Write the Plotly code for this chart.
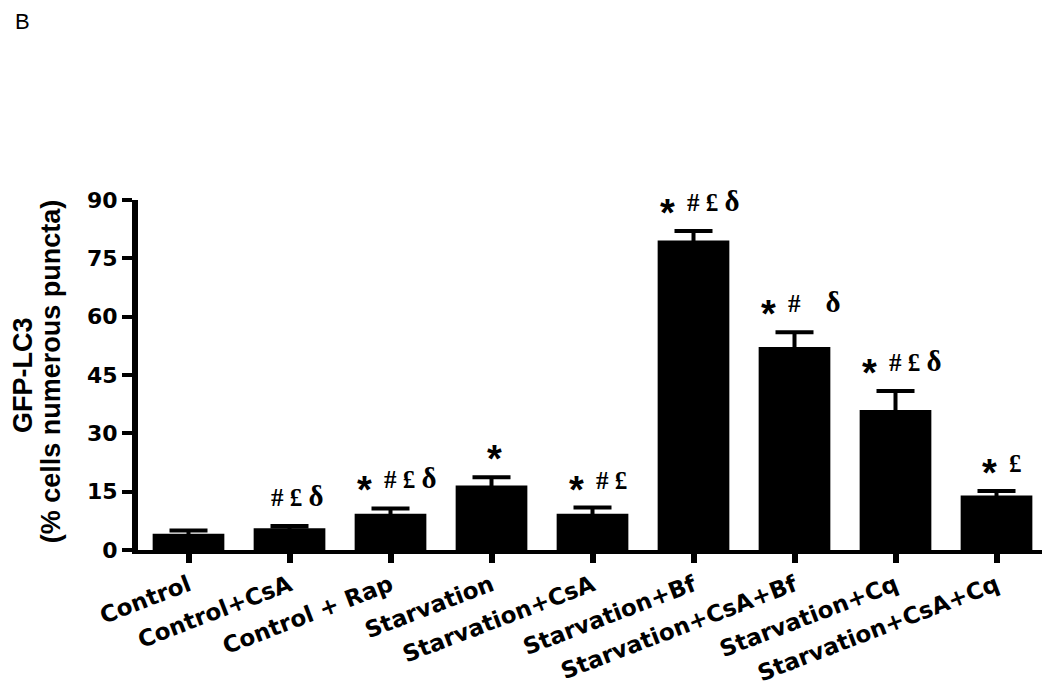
import plotly.graph_objects as go

groups = ["Control", "Control+CsA", "Control + Rap", "Starvation", "Starvation+CsA",
          "Starvation+Bf", "Starvation+CsA+Bf", "Starvation+Cq", "Starvation+CsA+Cq"]
means = [4.2, 5.6, 9.3, 16.6, 9.3, 79.6, 52.2, 36.0, 14.0]
sems = [0.8, 0.6, 1.4, 2.1, 1.6, 2.4, 3.8, 4.9, 1.2]
# significance marks above each bar
star = [False, False, True, True, True, True, True, True, True]
marks = ["", "# £ δ", "# £ δ", "", "# £", "# £ δ", "#\u00a0\u00a0\u00a0 δ", "# £ δ", "£"]
yticks = [0, 15, 30, 45, 60, 75, 90]

# the page body has an 8px margin, so the figure is drawn a bit smaller
fig = go.Figure()
fig.add_trace(go.Bar(
    x=groups, y=means, width=0.71,
    marker=dict(color="black", line=dict(width=0)),
    error_y=dict(type="data", array=sems, color="black", thickness=4, width=19),
))

serif = "Liberation Serif, Times New Roman, serif"
sans = "Liberation Sans, Arial, sans-serif"
for g, m, e, s, mk in zip(groups, means, sems, star, marks):
    top = m + e
    # rough text width of the marks in px
    wm = sum(6 if c in " \u00a0" else (14 if c == "δ" else 12) for c in mk)
    total = (16 if s else 0) + (8 if s and mk else 0) + wm
    left = -total / 2 + 4
    if s:
        fig.add_annotation(x=g, y=top, text="<b>*</b>", showarrow=False,
                           xanchor="left", yanchor="middle",
                           xshift=left - 3, yshift=18,
                           font=dict(family=sans, size=38, color="black"))
        left += 24
    if mk:
        txt = mk.replace("δ", "<span style='font-size:29px'>δ</span>")
        fig.add_annotation(x=g, y=top, text="<b>" + txt + "</b>", showarrow=False,
                           xanchor="left", yanchor="bottom",
                           xshift=left, yshift=12,
                           font=dict(family=serif, size=25, color="black"))

# y axis title, two lines
fig.add_annotation(xref="paper", yref="paper", x=-0.1265, y=0.5, text="<b>GFP-LC3</b>",
                   textangle=-90, showarrow=False, xanchor="center", yanchor="middle",
                   font=dict(family=sans, size=27, color="black"))
fig.add_annotation(xref="paper", yref="paper", x=-0.096, y=0.51,
                   text="<b>(% cells numerous puncta)</b>",
                   textangle=-90, showarrow=False, xanchor="center", yanchor="middle",
                   font=dict(family=sans, size=27, color="black"))
fig.add_annotation(xref="paper", yref="paper", x=-0.138, y=1.55, text="B",
                   showarrow=False, xanchor="left", yanchor="top",
                   font=dict(family=sans, size=22, color="black"))

fig.update_layout(
    width=1042, height=681,
    margin=dict(l=130, r=3, t=192, b=139),
    plot_bgcolor="white", paper_bgcolor="white",
    showlegend=False,
    xaxis=dict(
        range=[-0.5, 8.5], showline=True, linecolor="black", linewidth=4,
        ticks="outside", ticklen=9, tickwidth=6, tickcolor="black",
        tickangle=-21, showgrid=False, zeroline=False, automargin=False,
        tickfont=dict(family="DejaVu Sans", size=23, color="black", weight="bold"),
    ),
    yaxis=dict(
        range=[0, 90], tickvals=yticks, showline=True, linecolor="black", linewidth=6,
        ticks="outside", ticklen=10, tickwidth=4, tickcolor="black",
        showgrid=False, zeroline=False, automargin=False, ticklabelstandoff=0,
        tickfont=dict(family="DejaVu Sans", size=22, color="black", weight="bold"),
    ),
)

fig.write_html("out.html")
